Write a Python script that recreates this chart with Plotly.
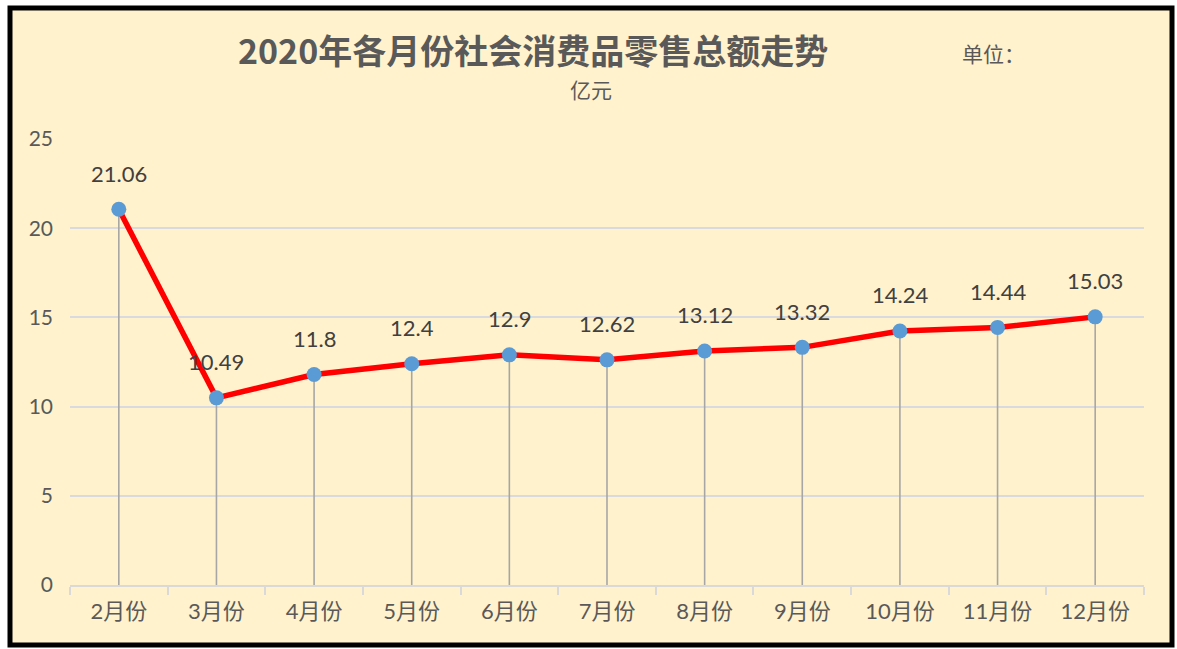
import plotly.graph_objects as go

months = ["2月份", "3月份", "4月份", "5月份", "6月份", "7月份", "8月份", "9月份", "10月份", "11月份", "12月份"]
values = [21.06, 10.49, 11.8, 12.4, 12.9, 12.62, 13.12, 13.32, 14.24, 14.44, 15.03]
labels = ["21.06", "10.49", "11.8", "12.4", "12.9", "12.62", "13.12", "13.32", "14.24", "14.44", "15.03"]
title_text = "2020年各月份社会消费品零售总额走势"
unit_text = "单位："
unit2_text = "亿元"
y_ticks = [0, 5, 10, 15, 20, 25]

W, H = 1177, 649
L, R, T, B = 70, 33, 139, 64
pw, ph = W - L - R, H - T - B

def px(x):
    return (x - L) / pw

def py(y):
    return (H - B - y) / ph

font_fam = "Lato, 'Noto Sans CJK SC', sans-serif"
cjk = "'Noto Sans CJK SC', sans-serif"

fig = go.Figure()
# drop lines
fig.add_trace(go.Scatter(
    x=months, y=values, mode="markers",
    marker=dict(size=0.1, color="rgba(0,0,0,0)"),
    error_y=dict(type="data", symmetric=False, array=[0] * len(values),
                 arrayminus=values, width=0, thickness=1.6, color="#A6A6A6"),
    hoverinfo="skip", showlegend=False,
))
# main line
fig.add_trace(go.Scatter(
    x=months, y=values, mode="lines+markers",
    line=dict(color="#FF0000", width=5.5),
    marker=dict(size=15, color="#5B9BD5"),
    showlegend=False,
))
for m, v, t in zip(months, values, labels):
    fig.add_annotation(x=m, y=v, text=t, showarrow=False, yshift=36,
                       xanchor="center", yanchor="middle",
                       font=dict(size=22, color="#404040", family=font_fam))

# border / background
fig.add_shape(type="rect", xref="paper", yref="paper",
              x0=px(10), x1=px(1172), y0=py(645), y1=py(8),
              line=dict(color="black", width=5), fillcolor="#FFF2CC", layer="below")

fig.add_annotation(xref="paper", yref="paper", x=px(533), y=py(49), text="<b>" + title_text + "</b>",
                   xanchor="center", yanchor="middle",
                   showarrow=False, font=dict(size=34, color="#595959", family=cjk))
fig.add_annotation(xref="paper", yref="paper", x=px(993), y=py(53), text=unit_text,
                   xanchor="center", yanchor="middle",
                   showarrow=False, font=dict(size=21, color="#595959", family=cjk))
fig.add_annotation(xref="paper", yref="paper", x=px(591), y=py(89), text=unit2_text,
                   xanchor="center", yanchor="middle",
                   showarrow=False, font=dict(size=21, color="#595959", family=cjk))

fig.update_layout(
    width=W, height=H,
    margin=dict(l=L, r=R, t=T, b=B),
    paper_bgcolor="white", plot_bgcolor="rgba(0,0,0,0)",
    font=dict(family=font_fam, color="#595959", size=20),
)
fig.update_xaxes(
    type="category", range=[-0.5, len(months) - 0.5],
    showgrid=False, showline=True, linecolor="#D9D9D9", linewidth=1.5,
    ticks="outside", tickson="boundaries", ticklen=8, tickcolor="#D9D9D9", tickwidth=1.5,
    ticklabelstandoff=6,
    tickfont=dict(size=22, color="#595959"),
)
fig.update_yaxes(
    range=[0, 25], tickvals=y_ticks, showgrid=True, gridcolor="#D9D9E0", gridwidth=1.5,
    zeroline=False, showline=False, ticklabelstandoff=16,
    tickfont=dict(size=21, color="#595959"),
)
fig.write_html("out.html", config={"displayModeBar": False},
               post_script="document.body.style.margin='0';document.body.style.overflow='hidden';")
